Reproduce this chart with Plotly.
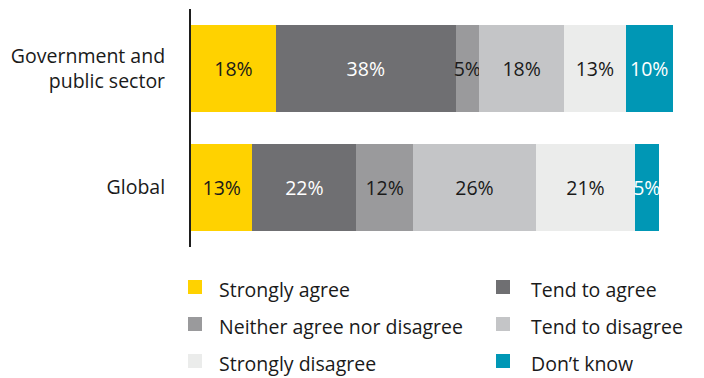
import plotly.graph_objects as go

# Survey groups (top to bottom) and response shares in percent
categories = ["Government and<br>public sector", "Global"]
series_names = [
    "Strongly agree",
    "Tend to agree",
    "Neither agree nor disagree",
    "Tend to disagree",
    "Strongly disagree",
    "Don\u2019t know",
]
strongly_agree = [18, 13]
tend_to_agree = [38, 22]
neither = [5, 12]
tend_to_disagree = [18, 26]
strongly_disagree = [13, 21]
dont_know = [10, 5]

series_values = [strongly_agree, tend_to_agree, neither,
                 tend_to_disagree, strongly_disagree, dont_know]
colors = ["#FFD200", "#6F6F72", "#9A9A9C", "#C4C5C7", "#EBECEB", "#0097B5"]
label_colors = ["#1A1A1A", "#FFFFFF", "#1A1A1A", "#1A1A1A", "#1A1A1A", "#FFFFFF"]

FONT = "Open Sans"
FS = 19.5
W, H = 704, 378
M_L, M_R, M_T, M_B = 191, 17, 9, 131
PW, PH = W - M_L - M_R, H - M_T - M_B

fig = go.Figure()
for name, vals, col, tcol in zip(series_names, series_values, colors, label_colors):
    fig.add_trace(go.Bar(
        name=name,
        y=categories,
        x=vals,
        orientation="h",
        marker=dict(color=col, line=dict(width=0)),
        text=[f"{v}%" for v in vals],
        textposition="inside",
        insidetextanchor="middle",
        textangle=0,
        constraintext="none",
        cliponaxis=False,
        textfont=dict(family=FONT, size=FS, color=tcol),
        showlegend=False,
        hoverinfo="skip",
    ))


def px_x(px):
    return (px - M_L) / PW


def px_y(py):
    return (M_T + PH - py) / PH


# Two-column legend below the plot
col_sq_x = [188, 496]
col_txt_x = [217, 529]
row_y = [287, 324, 361]
sq = 14
shapes = []
annotations = []
for i, (name, col) in enumerate(zip(series_names, colors)):
    r, c = divmod(i, 2)
    cy = row_y[r]
    shapes.append(dict(
        type="rect", xref="paper", yref="paper",
        x0=px_x(col_sq_x[c]), x1=px_x(col_sq_x[c] + sq),
        y0=px_y(cy + sq / 2), y1=px_y(cy - sq / 2),
        fillcolor=col, line=dict(width=0),
    ))
    annotations.append(dict(
        xref="paper", yref="paper",
        x=px_x(col_txt_x[c]), y=px_y(cy + 2),
        xanchor="left", yanchor="middle",
        text=name, showarrow=False,
        font=dict(family=FONT, size=FS, color="#1A1A1A"),
    ))

fig.update_layout(
    barmode="stack",
    bargap=0.277,
    width=W, height=H,
    margin=dict(l=M_L, r=M_R, t=M_T, b=M_B, pad=0),
    paper_bgcolor="white",
    plot_bgcolor="white",
    shapes=shapes,
    annotations=annotations,
    xaxis=dict(range=[0, 105], visible=False, fixedrange=True),
    yaxis=dict(
        autorange="reversed",
        showline=True, linecolor="#1E1E1E", linewidth=2,
        ticks="outside", ticklen=20, tickcolor="rgba(0,0,0,0)",
        tickfont=dict(family=FONT, size=FS, color="#1A1A1A"),
        showgrid=False, zeroline=False, fixedrange=True,
    ),
    font=dict(family=FONT),
)

fig.write_html("out.html", config={"displayModeBar": False})
